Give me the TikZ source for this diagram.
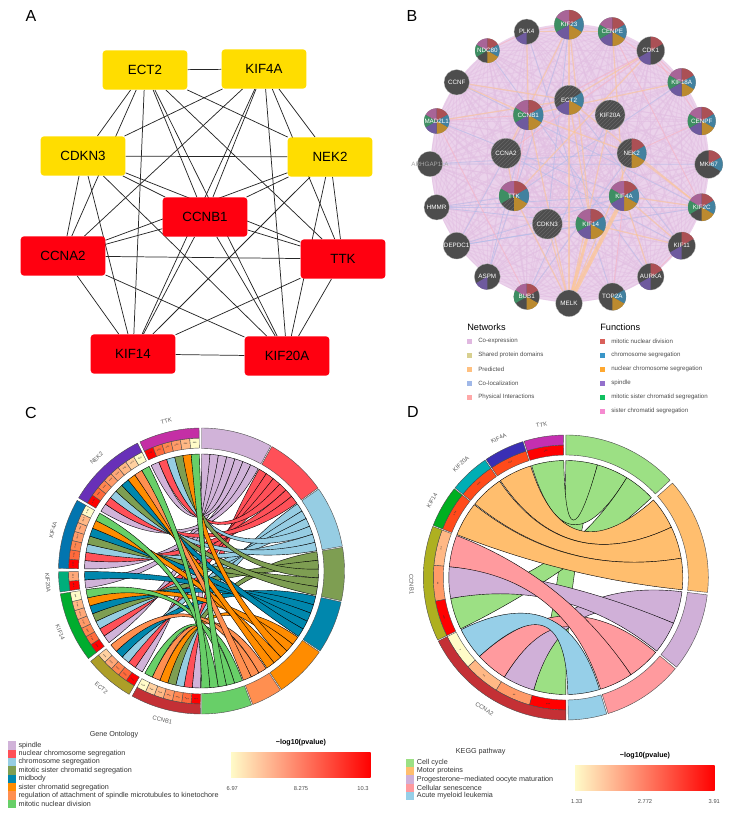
\documentclass[tikz,border=0pt]{standalone}
\usepackage{fontspec}
\setmainfont{Liberation Sans}
\usepackage{tikz}
\usetikzlibrary{backgrounds, patterns}

\definecolor{hubyellow}{HTML}{FFDD00}
\definecolor{hubred}{HTML}{FF0010}
\definecolor{discgray}{HTML}{4D4D4D}
\definecolor{pie0}{HTML}{AB5055}
\definecolor{pie1}{HTML}{42819F}
\definecolor{pie2}{HTML}{BB8A2F}
\definecolor{pie3}{HTML}{6E5A9E}
\definecolor{pie4}{HTML}{3E8E63}
\definecolor{pie5}{HTML}{A86497}
\definecolor{netlilac}{HTML}{E2BFE2}
\definecolor{netorange}{HTML}{FFC78F}
\definecolor{netblue}{HTML}{A9BDEB}
\definecolor{netpink}{HTML}{FFB3BC}
\definecolor{goA}{HTML}{D1B3D9}
\definecolor{goB}{HTML}{FF5058}
\definecolor{goC}{HTML}{96CDE3}
\definecolor{goD}{HTML}{7E9E52}
\definecolor{goE}{HTML}{0087AD}
\definecolor{goF}{HTML}{FF8C00}
\definecolor{goG}{HTML}{FF8F50}
\definecolor{goH}{HTML}{68CF68}
\definecolor{heatA}{HTML}{FF0000}
\definecolor{heatB}{HTML}{FF6A3C}
\definecolor{heatC}{HTML}{FF8650}
\definecolor{heatD}{HTML}{FF9A68}
\definecolor{heatE}{HTML}{FFA878}
\definecolor{heatF}{HTML}{FFB885}
\definecolor{heatG}{HTML}{FFD0A0}
\definecolor{heatH}{HTML}{FFFBC8}
\definecolor{heatX}{HTML}{FF4A1A}
\definecolor{keggA}{HTML}{9CE084}
\definecolor{keggB}{HTML}{FFBE6E}
\definecolor{keggC}{HTML}{D0B0D8}
\definecolor{keggD}{HTML}{FF9A9E}
\definecolor{keggE}{HTML}{96CFE8}
\definecolor{rampmid}{HTML}{FF9966}

\newcommand{\fs}[1]{\fontsize{#1}{#1}\selectfont}
% ring piece: colour, from, to, inner radius, outer radius
\newcommand{\ringseg}[5]{\draw[ringline,fill=#1] (#2:#4) arc[start angle=#2,end angle=#3,radius=#4]
  -- (#3:#5) arc[start angle=#3,end angle=#2,radius=#5] -- cycle;}
% chord ribbon: colour, gene low, gene high, term high, term low
\newcommand{\ribbon}[5]{\draw[ribline,fill=#1] (#2:117) .. controls (#2:39) and (#4:39) .. (#4:117)
  arc[start angle=#4,end angle=#5,radius=117] .. controls (#5:39) and (#3:39) .. (#3:117)
  arc[start angle=#3,end angle=#2,radius=117] -- cycle;}

\tikzset{
  panel/.style={font=\fs{12}},
  gbox/.style={rounded corners=2.5pt,minimum width=63.5pt,minimum height=29.5pt,inner sep=0pt,font=\fs{10}},
  gedge/.style={draw=black!85,line width=0.55pt},
  bdisc/.style={circle,fill=discgray,draw=black!25,line width=0.2pt,inner sep=0pt},
  bplain/.style={},
  bhub/.style={preaction={fill=discgray},pattern=north east lines,pattern color=black!60},
  blabel/.style={text=white,font=\fs{4.7},inner sep=0pt},
  labARHGAP11A/.style={text=black!35},
  legtitle/.style={font=\fs{6.9},inner sep=0pt,anchor=west},
  legitem/.style={font=\fs{4.6},text=black!70,inner sep=0pt,anchor=west},
  ringline/.style={draw=black!70,line width=0.3pt},
  ribline/.style={draw=black,line width=0.3pt},
  genelabel/.style={font=\fs{4.4},text=black!65,inner sep=0pt},
  stars/.style={font=\fs{2.6},text=black!80,inner sep=0pt},
  chordtext/.style={font=\fs{5.4},text=black!80,inner sep=0pt},
  rampnum/.style={font=\fs{4.3},text=black!70,inner sep=0pt},
  ramptitle/.style={font=\bfseries\fs{5.35},inner sep=0pt},
}

\begin{document}
\begin{tikzpicture}[x=0.75pt,y=-0.75pt]
  \useasboundingbox (0,0) rectangle (729,813);

  \node[panel] (lblA) at (31,16) {A};
  \node[panel] (lblB) at (412,16) {B};
  \node[panel] (lblC) at (31,413) {C};
  \node[panel] (lblD) at (413,412) {D};

  % Panel A: hub genes
  \foreach \n/\x/\y/\c in {ECT2/145/70/hubyellow, KIF4A/264/69/hubyellow, CDKN3/83/156/hubyellow,
      NEK2/330/157/hubyellow, CCNB1/205/217/hubred, CCNA2/63/256/hubred, TTK/343/259/hubred,
      KIF14/133/354/hubred, KIF20A/287/356/hubred}
    \node[gbox,fill=\c] (a\n) at (\x,\y) {\n};

  \begin{scope}[on background layer]
    \foreach \p [count=\i] in {ECT2,KIF4A,CDKN3,NEK2,CCNB1,CCNA2,TTK,KIF14,KIF20A} {
      \foreach \q [count=\j] in {ECT2,KIF4A,CDKN3,NEK2,CCNB1,CCNA2,TTK,KIF14,KIF20A} {
        \ifnum\j>\i \draw[gedge] (a\p) -- (a\q); \fi
      }
    }
  \end{scope}

  % Panel B: gene network
  \foreach \n/\x/\y/\r/\code/\sty in {
      KIF23/569/24.7/14.7/{1,1,1,1,1,1}/bplain, CENPE/612.3/31.7/14.3/{1,1,1,1,1,1}/bplain,
      CDK1/650.7/50.7/14/{1,0,0,1,0,0}/bplain, KIF18A/681.7/82.3/14/{1,1,1,1,1,1}/bplain,
      CENPF/701.7/121/14/{1,1,1,1,1,1}/bplain, MKI67/708.7/164.3/14/{1,1,0,0,0,0}/bplain,
      KIF2C/701.7/207.3/13.7/{1,1,1,0,1,1}/bplain, KIF11/681.7/245.7/13.7/{1,0,0,1,0,0}/bplain,
      AURKA/650.7/276.7/13.3/{1,0,0,1,0,0}/bplain, TOP2A/612.3/296.7/13.7/{0,1,1,0,0,0}/bplain,
      MELK/569/303.3/13.3/{0,0,0,0,0,0}/bplain, BUB1/526.7/296.7/13/{1,0,1,0,1,1}/bplain,
      ASPM/487.3/276.7/13/{0,0,0,1,0,0}/bplain, DEPDC1/456.7/245.7/13.3/{0,0,0,0,0,0}/bplain,
      HMMR/436.7/207.3/12.7/{0,0,0,0,0,0}/bplain, ARHGAP11A/430/164/12.7/{0,0,0,0,0,0}/bplain,
      MAD2L1/436.7/121/12.7/{1,1,1,1,1,1}/bplain, CCNF/456.7/82.3/12.7/{0,0,0,0,0,0}/bplain,
      NDC80/487.3/50.7/12.3/{1,1,1,0,1,1}/bplain, PLK4/526.7/31.7/12.7/{0,0,0,1,0,0}/bplain,
      ECT2/569/100/14.7/{0,1,1,1,0,0}/bhub, KIF20A/610/115/15/{0,0,0,0,0,0}/bhub,
      NEK2/631.7/153.3/14.7/{1,1,1,0,0,0}/bhub, KIF4A/624/196/15/{1,1,1,1,1,1}/bhub,
      KIF14/590.7/224/15/{1,1,1,1,1,1}/bhub, CDKN3/547.3/224/15/{0,0,0,0,0,0}/bhub,
      TTK/514/196/15/{1,1,1,0,1,1}/bhub, CCNA2/506/153.3/15/{0,0,0,0,0,0}/bhub,
      CCNB1/528.3/115/15/{1,1,1,1,1,1}/bhub} {
    \node[bdisc,\sty,minimum size={1.5*\r*1pt}] (b\n) at (\x,\y) {};
    \foreach \k [count=\s from 0] in \code {
      \ifnum\k=1
        \pgfmathsetmacro\sa{90-60*\s}
        \pgfmathsetmacro\sb{30-60*\s}
        \fill[pie\s,shift={(b\n.center)},y=0.75pt] (0,0) -- (\sa:\r) arc[start angle=\sa,end angle=\sb,radius=\r] -- cycle;
      \fi
    }
    \node[blabel,lab\n/.try] (t\n) at (\x,\y) {\n};
  }

  \begin{scope}[on background layer]
    \fill[netlilac!70] (570,163) circle (139);
    \foreach \p [count=\i] in {KIF23,CENPE,CDK1,KIF18A,CENPF,MKI67,KIF2C,KIF11,AURKA,TOP2A,MELK,BUB1,ASPM,DEPDC1,HMMR,ARHGAP11A,MAD2L1,CCNF,NDC80,PLK4,ECT2,KIF20A,NEK2,KIF4A,KIF14,CDKN3,TTK,CCNA2,CCNB1} {
      \foreach \q [count=\j] in {KIF23,CENPE,CDK1,KIF18A,CENPF,MKI67,KIF2C,KIF11,AURKA,TOP2A,MELK,BUB1,ASPM,DEPDC1,HMMR,ARHGAP11A,MAD2L1,CCNF,NDC80,PLK4,ECT2,KIF20A,NEK2,KIF4A,KIF14,CDKN3,TTK,CCNA2,CCNB1} {
        \ifnum\j>\i \draw[netlilac,line width=0.7pt,opacity=0.55] (b\p) -- (b\q); \fi
      }
    }
    % co-localization
    \foreach \p/\q in {HMMR/KIF14,HMMR/KIF4A,HMMR/KIF2C,HMMR/TTK,DEPDC1/KIF14,DEPDC1/CCNB1,DEPDC1/KIF2C,DEPDC1/KIF4A,
        ARHGAP11A/NEK2,ARHGAP11A/MKI67,ASPM/KIF23,ASPM/CCNB1,TTK/KIF18A,CCNA2/KIF11,KIF20A/BUB1,ECT2/KIF11,
        CCNF/KIF2C,PLK4/TOP2A,NDC80/AURKA,KIF23/CDKN3,MAD2L1/KIF4A,NEK2/BUB1}
      \draw[netblue,line width=0.6pt,opacity=0.5] (b\p) -- (b\q);
    % physical interactions
    \foreach \p/\q in {CDK1/CCNA2,CDK1/CCNB1,CENPE/KIF2C,KIF18A/CENPE,CENPF/CDK1,KIF18A/CDK1,NDC80/PLK4,PLK4/KIF23,
        MAD2L1/CCNB1,CCNB1/TTK,CCNA2/CCNB1,AURKA/KIF11,TOP2A/KIF4A,NEK2/CENPF,BUB1/MAD2L1}
      \draw[netpink,line width=0.6pt,opacity=0.55] (b\p) -- (b\q);
    % predicted
    \foreach \p/\q in {CCNF/ECT2,CCNF/CCNB1,KIF23/MELK,KIF23/KIF14,KIF23/CCNA2,CENPE/KIF4A,CENPE/PLK4,CDK1/TTK,CDK1/ECT2,
        KIF20A/MELK,NEK2/MELK,ECT2/KIF14,ECT2/KIF2C,CCNB1/NEK2,CCNB1/MELK,CCNA2/TTK,KIF2C/KIF4A,KIF2C/NEK2,KIF11/KIF4A,
        KIF11/KIF14,AURKA/KIF4A,TTK/MELK,CDKN3/MELK,MAD2L1/ECT2,PLK4/CCNB1,KIF18A/CCNB1}
      \draw[netorange,line width=0.9pt,opacity=0.55] (b\p) -- (b\q);
    \draw[netorange,line width=3pt,opacity=0.7] (bMELK) -- (bKIF4A);
    \draw[netorange,line width=2.2pt,opacity=0.7] (bMELK) -- (bKIF14);
  \end{scope}

  \node[legtitle] (netTitle) at (467,327) {Networks};
  \node[legtitle] (funTitle) at (600,327) {Functions};
  \foreach \t/\c [count=\i] in {Co-expression/E0B8E0, Shared protein domains/D8D090, Predicted/FFC080,
      Co-localization/A0B8E8, Physical Interactions/FFA8A8} {
    \definecolor{legc}{HTML}{\c}
    \fill[legc] (467,{327+14*\i}) ++(0,-2.5) rectangle ++(5,5);
    \node[legitem] (net\i) at (478,{327+14*\i}) {\t};
  }
  \foreach \t/\c [count=\i] in {mitotic nuclear division/D9605A, chromosome segregation/3A96C8,
      nuclear chromosome segregation/FFA830, spindle/9370CC,
      mitotic sister chromatid segregation/10C060, sister chromatid segregation/F58AD0} {
    \definecolor{legc}{HTML}{\c}
    \fill[legc] (600,{327+14*\i}) ++(0,-2.5) rectangle ++(5,5);
    \node[legitem] (fun\i) at (611,{327+14*\i}) {\t};
  }

  % Panel C: GO chord
  \begin{scope}[shift={(201.5,571)},y=0.75pt]
    \foreach \tcol/\hcol/\bs/\be/\num/\alist in {
        goA/heatA/90/61/7/{265.48,235.52,213.68,184.38,111.4,174.88,145.16},
        goB/heatB/60.5/35.5/6/{261.4,231.44,209.6,107.32,170.8,141.08},
        goC/heatC/35/10/6/{257.32,227.36,205.52,103.24,166.72,137},
        goD/heatD/9.5/-12/5/{253.24,201.44,99.16,162.64,132.92},
        goE/heatE/-12.5/-34/5/{223.28,197.36,180.3,158.56,128.84},
        goF/heatF/-34.5/-56/5/{249.16,193.28,95.08,154.48,124.76},
        goG/heatG/-56.5/-69/3/{245.08,219.2,120.68},
        goH/heatH/-69.5/-90/5/{241,189.2,91,150.4,116.6}} {
      \ringseg{\tcol}{\bs}{\be}{122.5}{143}
      \pgfmathsetmacro\bw{(\bs-\be)/\num}
      \foreach \a [count=\i from 0] in \alist {
        \pgfmathsetmacro\ah{\a+4.08}
        \pgfmathsetmacro\bh{\bs-\i*\bw}
        \pgfmathsetmacro\bl{\bh-\bw}
        \pgfmathsetmacro\am{\a+2.04}
        \pgfmathsetmacro\ar{\am-90}
        \ribbon{\tcol}{\a}{\ah}{\bh}{\bl}
        \ringseg{\hcol}{\a}{\ah}{123}{133}
        \node[stars,rotate=\ar] (c\tcol\i) at (\am:128) {***};
      }
    }
    \foreach \n/\aa/\ab/\c in {TTK/91/115.48/C42FA5, NEK2/116.6/149.24/6830B8, KIF4A/150.4/178.96/0275AF,
        KIF20A/180.3/188.46/00AE7B, KIF14/189.2/217.76/00AD2E, ECT2/219.2/239.6/AD9E28, CCNB1/241/269.56/C43035} {
      \definecolor{genec}{HTML}{\c}
      \ringseg{genec}{\aa}{\ab}{133}{143}
      \pgfmathsetmacro\am{(\aa+\ab)/2}
      \pgfmathsetmacro\ar{\am<180 ? \am-90 : \am+90}
      \node[genelabel,rotate=\ar] (cg\n) at (\am:154) {\n};
    }
  \end{scope}

  \node[chordtext] (goTitle) at (114,735) {Gene Ontology};
  \foreach \t/\c [count=\i from 0] in {spindle/goA, nuclear chromosome segregation/goB, chromosome segregation/goC,
      mitotic sister chromatid segregation/goD, midbody/goE, sister chromatid segregation/goF,
      regulation of attachment of spindle microtubules to kinetochore/goG, mitotic nuclear division/goH} {
    \fill[\c] (8,{741.2+8.35*\i}) rectangle ++(8,8.35);
    \node[chordtext,anchor=west] (go\i) at (18.3,{745.4+8.35*\i}) {\t};
  }
  \node[ramptitle] (goRamp) at (301,742.7) {−log10(pvalue)};
  \shade[left color=heatH,middle color=rampmid,right color=heatA] (231,752.3) rectangle (370.7,777.7);
  \node[rampnum] (goLow) at (232.3,788.7) {6.97};
  \node[rampnum] (goMid) at (301,788.7) {8.275};
  \node[rampnum] (goHigh) at (363,788.7) {10.3};

  % Panel D: KEGG chord
  \begin{scope}[shift={(565.8,577.5)},y=0.75pt]
    \ringseg{keggA}{90}{43}{122.5}{142.5}
    \ribbon{keggA}{254.1}{270}{90}{74.3}
    \ribbon{keggA}{91}{107}{74.3}{58.6}
    \ribbon{keggA}{190.3}{206}{58.6}{43}
    \ringseg{keggB}{41.5}{-6}{122.5}{142.5}
    \ribbon{keggB}{107.5}{124}{41.5}{25.5}
    \ribbon{keggB}{124.5}{141}{25.5}{9.5}
    \ribbon{keggB}{141.5}{158.5}{9.5}{-6}
    \ringseg{keggC}{-7}{-39}{122.5}{142.5}
    \ribbon{keggC}{238.3}{254.1}{-7}{-23}
    \ribbon{keggC}{174.7}{190.3}{-23}{-39}
    \ringseg{keggD}{-39.8}{-72.7}{122.5}{142.5}
    \ribbon{keggD}{222.4}{238.3}{-39.8}{-56.2}
    \ribbon{keggD}{159}{174.7}{-56.2}{-72.7}
    \ringseg{keggE}{-73.3}{-89}{122.5}{142.5}
    \ribbon{keggE}{206.5}{222.4}{-73.3}{-89}

    \foreach \aa/\ab/\c/\s in {91/107/heatA/***, 107.5/124/heatX/***, 124.5/141/heatX/***, 141.5/158.5/heatX/***,
        159/174.7/heatF/**, 174.7/190.3/heatD/**, 190.3/206/heatA/***,
        206.5/222.4/heatH/*, 222.4/238.3/heatF/**, 238.3/254.1/heatD/**, 254.1/270/heatA/***} {
      \ringseg{\c}{\aa}{\ab}{122.5}{132.5}
      \pgfmathsetmacro\am{(\aa+\ab)/2}
      \pgfmathsetmacro\ar{\am-90}
      \node[stars,rotate=\ar] (dh\aa) at (\am:127.5) {\s};
    }
    \foreach \n/\aa/\ab/\c in {TTK/91/107/C42FB0, KIF4A/107.5/124/3A2FB5, KIF20A/124.5/141/00AEB5,
        KIF14/141.5/158.5/00B020, CCNB1/159/206/AEB020, CCNA2/206.5/270/C43035} {
      \definecolor{genec}{HTML}{\c}
      \ringseg{genec}{\aa}{\ab}{132.5}{142.5}
      \pgfmathsetmacro\am{(\aa+\ab)/2}
      \pgfmathsetmacro\ar{\am<180 ? \am-90 : \am+90}
      \node[genelabel,rotate=\ar] (dg\n) at (\am:154.5) {\n};
    }
  \end{scope}

  \node[chordtext] (keggTitle) at (480.7,752) {KEGG pathway};
  \foreach \t/\c [count=\i from 0] in {Cell cycle/keggA, Motor proteins/keggB,
      Progesterone−mediated oocyte maturation/keggC, Cellular senescence/keggD, Acute myeloid leukemia/keggE} {
    \fill[\c] (406.3,{758.5+8.35*\i}) rectangle ++(8,8.35);
    \node[chordtext,anchor=west] (kegg\i) at (416.7,{762.7+8.35*\i}) {\t};
  }
  \node[ramptitle] (keggRamp) at (645,755.3) {−log10(pvalue)};
  \shade[left color=heatH,middle color=rampmid,right color=heatA] (575,765.7) rectangle (714.7,790.3);
  \node[rampnum] (keggLow) at (576.7,801.3) {1.33};
  \node[rampnum] (keggMid) at (645,801.3) {2.772};
  \node[rampnum] (keggHigh) at (714.3,801.3) {3.91};
\end{tikzpicture}
\end{document}
